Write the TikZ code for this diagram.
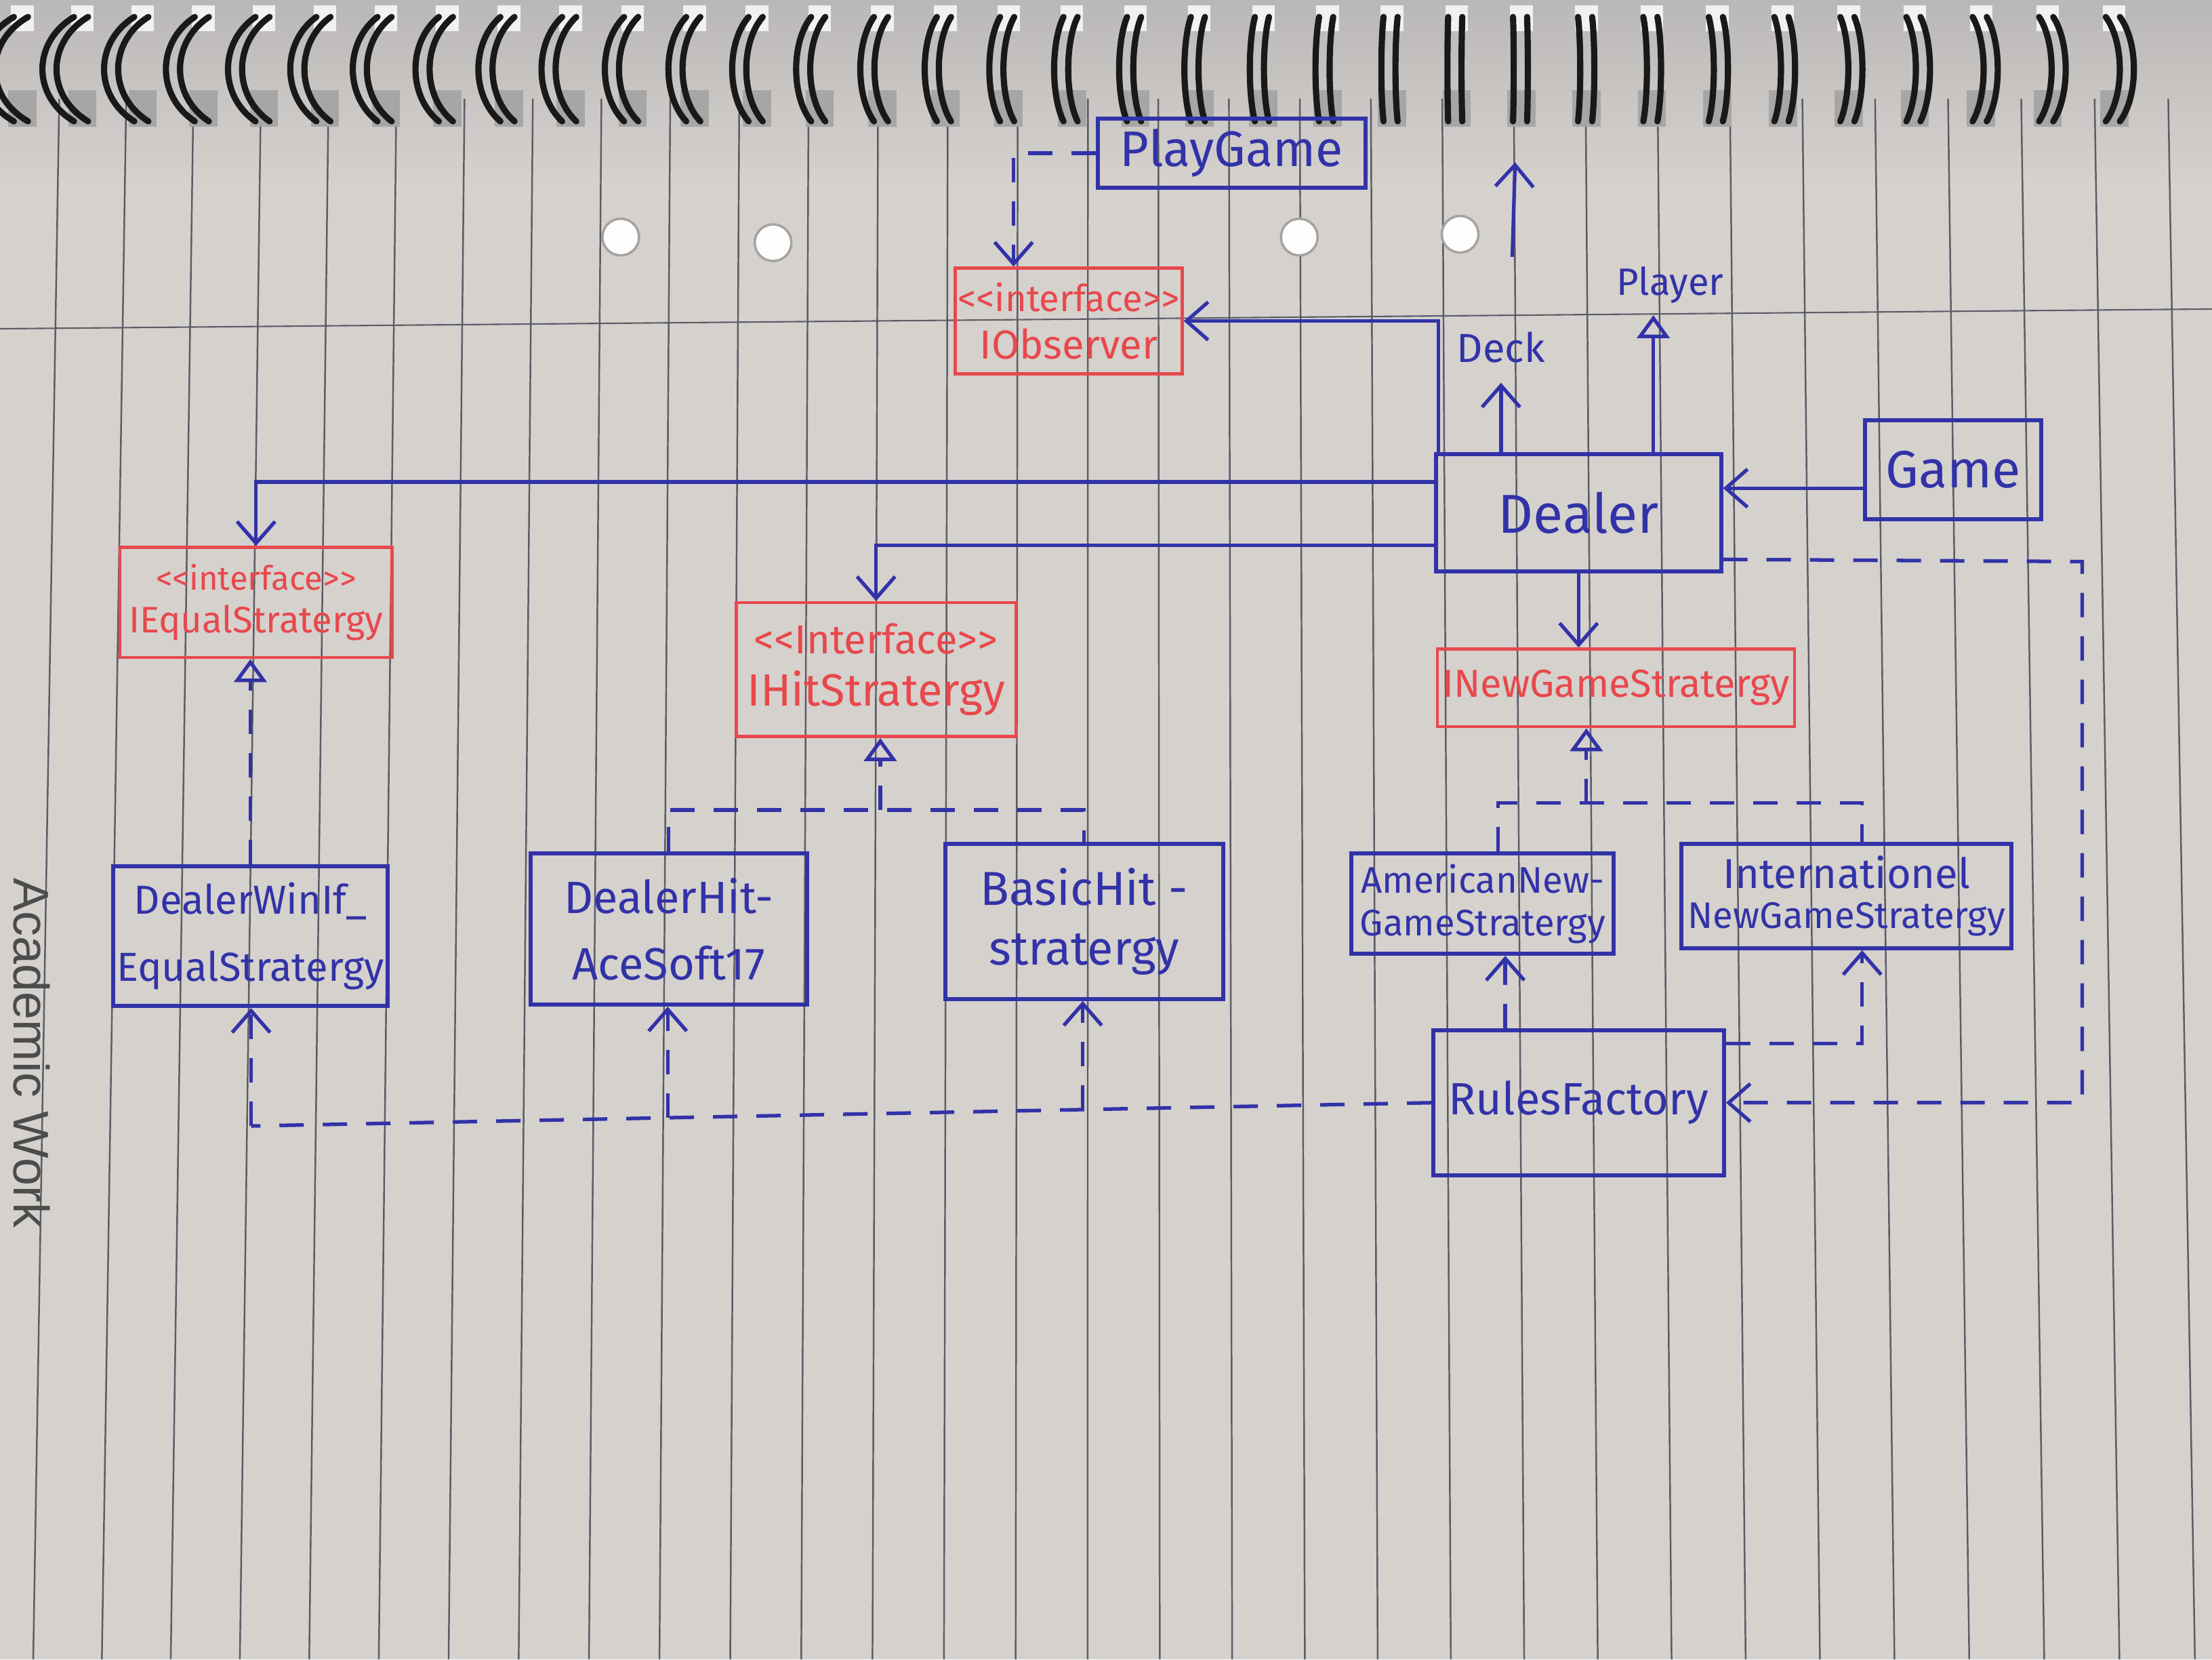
\documentclass[tikz,border=0pt]{standalone}
\usepackage{fontspec}
\setmainfont{Fira Sans}
\newfontfamily\coverfont{Liberation Sans}
\usetikzlibrary{arrows.meta,calc}

\definecolor{ink}{RGB}{50,50,168}
\definecolor{redink}{RGB}{232,72,76}
\definecolor{paper}{RGB}{213,209,205}
\definecolor{papertop}{RGB}{186,184,183}
\definecolor{rulegray}{RGB}{92,92,104}
\definecolor{holerim}{RGB}{165,162,160}

\tikzset{
  sheetrule/.style={draw=rulegray, line width=0.7pt},
  coil/.style={draw=black!90, line width=2.6pt, line cap=round},
  span/.style 2 args={minimum width={#1*0.208163mm}, minimum height={#2*0.208163mm}},
  umlbox/.style={draw=ink, line width=1.7pt, inner sep=0pt, align=center, text=ink},
  ifacebox/.style={draw=redink, line width=1.3pt, inner sep=0pt, align=center, text=redink},
  freetext/.style={inner sep=0pt, text=ink},
  wire/.style={draw=ink, line width=1.5pt},
  dashwire/.style={wire, dash pattern=on 3.6mm off 2.8mm},
  assoc/.style={wire, -{Straight Barb[length=3.2mm,width=5.6mm]}},
  dep/.style={dashwire, -{Straight Barb[length=3.2mm,width=5.6mm]}},
  realize/.style={dashwire, -{Triangle[open,length=3.4mm,width=4.8mm]}},
  inherit/.style={wire, -{Triangle[open,length=3.4mm,width=4.8mm]}},
}

\begin{document}
\begin{tikzpicture}[x=0.208163mm, y=-0.208163mm]
\useasboundingbox (0,0) rectangle (1568,1176);

% notebook sheet
\fill[paper] (0,0) rectangle (1568,1176);
\shade[top color=papertop, bottom color=paper] (0,0) rectangle (1568,130);
\foreach \n in {0,...,30}{
  \pgfmathsetmacro{\xt}{42+47.39*\n+0.0814*\n*\n}
  \pgfmathsetmacro{\xb}{\xt+(\xt-780)*0.025}
  \draw[sheetrule] (\xt,70) -- (\xb,1176);
}
\draw[sheetrule, line width=0.6pt] (0,233) -- (1568,219);
\foreach \hx/\hy in {440/168, 548/172, 921/168, 1035/166}
  \filldraw[fill=white!96!paper, draw=holerim, line width=1pt] (\hx,\hy) circle (13);

% spiral binding
\foreach \n in {-1,...,32}{
  \pgfmathsetmacro{\xc}{30+43.63*\n+0.0747*\n*\n}
  \pgfmathsetmacro{\bulge}{(\xc-1050)*0.022}
  \pgfmathsetmacro{\xe}{\xc-\bulge}
  \pgfmathsetmacro{\xm}{\xc+0.33*\bulge}
  \fill[black!35] (\xe-4,64) rectangle (\xe+16,90);
  \fill[white!70!paper] (\xe-2,4) rectangle (\xe+14,22);
  \draw[coil] (\xe,12) .. controls (\xm,30) and (\xm,68) .. (\xe,86);
  \draw[coil] (\xe+10,12) .. controls (\xm+10,30) and (\xm+10,68) .. (\xe+10,86);
}

% print on the cover edge
\node[font=\coverfont\fontsize{21}{21}\selectfont, text=black!70, rotate=-90,
      anchor=base west, inner sep=0pt] (covertext) at (10,622) {Academic Work};

% classes and interfaces
\node[umlbox, span={190}{49}, font=\fontsize{21}{24}\selectfont] (playgame) at (873,108.5) {PlayGame};
\node[ifacebox, span={161}{75}, font=\fontsize{17}{20}\selectfont] (iobserver) at (757.5,227.5)
  {{\fontsize{15.5}{17}\selectfont <{}<interface>{}>}\\IObserver};
\node[umlbox, span={202}{83}, font=\fontsize{23}{26}\selectfont] (dealer) at (1119,363.5) {Dealer};
\node[umlbox, span={125}{70}, font=\fontsize{22}{25}\selectfont] (game) at (1384.5,333) {Game};
\node[freetext, font=\fontsize{17}{20}\selectfont] (deck) at (1064,246) {Deck};
\node[freetext, font=\fontsize{16}{19}\selectfont] (player) at (1184,202) {Player};

\node[ifacebox, span={193}{78}, font=\fontsize{15.5}{18}\selectfont] (iequal) at (181.5,427)
  {{\fontsize{14}{16}\selectfont <{}<interface>{}>}\\IEqualStratergy};
\node[ifacebox, span={198}{95}, font=\fontsize{19}{22}\selectfont] (ihit) at (621,474.5)
  {{\fontsize{17}{19}\selectfont <{}<Interface>{}>}\\IHitStratergy};
\node[ifacebox, span={253}{55}, font=\fontsize{16.4}{19}\selectfont] (inewgame) at (1145.5,487.5) {INewGameStratergy};

\node[umlbox, span={195}{99}, font=\fontsize{17}{28}\selectfont] (dealerwin) at (177.5,663.5) {DealerWinIf\_\\EqualStratergy};
\node[umlbox, span={196}{107}, font=\fontsize{19}{28}\selectfont] (dealerhit) at (474,658.5) {DealerHit-\\AceSoft17};
\node[umlbox, span={197}{110}, font=\fontsize{20}{25}\selectfont] (basichit) at (768.5,653) {BasicHit -\\stratergy};
\node[umlbox, span={186}{71}, font=\fontsize{15.5}{18}\selectfont] (american) at (1051,640.5) {AmericanNew-\\GameStratergy};
\node[umlbox, span={234}{74}, font=\fontsize{15.5}{17}\selectfont] (international) at (1309,635)
  {{\fontsize{17.5}{19}\selectfont Internationel}\\NewGameStratergy};
\node[umlbox, span={206}{103}, font=\fontsize{19}{22}\selectfont] (rules) at (1119,781.5) {RulesFactory};

% helper points for bends and junctions
\coordinate (upfrom) at (1072,182);
\coordinate (upto) at (1074,115);
\coordinate (dk) at (1476,398);
\coordinate (tl) at (178,798);
\coordinate (hj) at ($(ihit.south)+(3,51)$);
\coordinate (nj) at ($(inewgame.south)+(-21,53)$);
\coordinate (pp) at ($(player.south)+(-12,8)$);

% top part
\draw[dep] (playgame.west) -| ($(iobserver.north)+(-39,0)$);
\draw[assoc] ($(dealer.north west)+(3,0)$) |- (iobserver.east);
\draw[assoc] (dealer.north -| deck.south) -- ($(deck.south)+(0,14)$);
\draw[assoc] (upfrom) -- (upto);
\draw[inherit] (dealer.north -| pp) -- (pp);
\draw[assoc] ($(game.west)+(0,13)$) coordinate (gw) -- (dealer.east |- gw);

% dealer uses the strategies
\draw[assoc] ($(dealer.north west)+(0,21)$) -| (iequal.north);
\draw[assoc] ($(dealer.north west)+(0,66)$) -| (ihit.north);
\draw[assoc] (dealer.south) -- (dealer.south |- inewgame.north);
\draw[dep] ($(dealer.south east)+(0,-10)$) -- (dk) |- (rules.east);

% realizations
\draw[realize] (dealerwin.north) -- (dealerwin.north |- iequal.south);
\draw[dashwire] (dealerhit.north) |- (hj) -| (basichit.north);
\draw[realize] (hj) -- (ihit.south -| hj);
\draw[dashwire] ($(american.north)+(11,0)$) |- (nj) -| ($(international.north)+(11,0)$);
\draw[realize] (nj) -- (inewgame.south -| nj);

% factory dependencies
\draw[dashwire] (rules.west) -- (tl);
\draw[dep] (tl) -- (tl |- dealerwin.south);
\coordinate (b2) at ($(rules.west)!0.647!(tl)$);
\coordinate (b3) at ($(rules.west)!0.2953!(tl)$);
\draw[dep] (b2) -- (b2 |- dealerhit.south);
\draw[dep] (b3) -- (b3 |- basichit.south);
\coordinate (ra) at ($(rules.north)+(-52,0)$);
\draw[dep] (ra) -- (ra |- american.south);
\draw[dep] ($(rules.north east)+(0,11)$) -| ($(international.south)+(11,0)$);
\end{tikzpicture}
\end{document}
